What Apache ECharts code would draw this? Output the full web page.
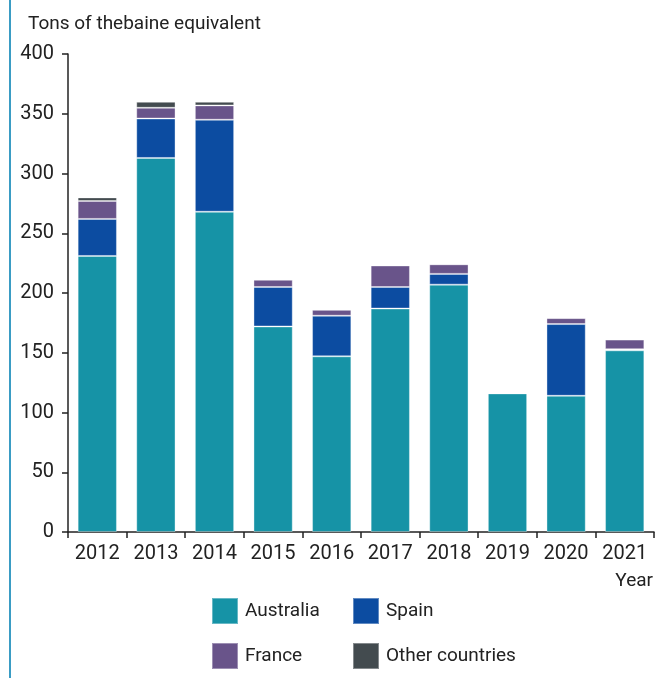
<!DOCTYPE html>
<html><head><meta charset="utf-8">
<script src="https://cdn.jsdelivr.net/npm/echarts@6/dist/echarts.min.js"></script>
<style>html,body{margin:0;padding:0;background:#fff}#c{width:662px;height:678px}</style>
</head><body><div id="c"></div>
<script>
var years = ['2012','2013','2014','2015','2016','2017','2018','2019','2020','2021'];
var australia = [231, 313, 268, 172, 147, 187, 207, 116, 114, 152];
var spain =     [31, 33, 77, 33, 34, 18, 9, 0, 60, 1];
var france =    [15, 9, 12, 6, 5, 18, 8, 0, 5, 8];
var other =     [3, 5, 3, 1, 0, 0, 0, 0, 0, 0];
var yTicks = [0, 50, 100, 150, 200, 250, 300, 350, 400];

var FONT = 'Roboto, sans-serif';
var names = ['Australia','Spain','France','Other countries'];
var colors = ['#1693a6','#0c4ca1','#69548a','#434b4f'];
var datas = [australia, spain, france, other];

var chart = echarts.init(document.getElementById('c'));
var series = names.map(function(n,i){
  return {name:n,type:'bar',stack:'t',data:datas[i],barWidth:'67%',
    itemStyle:{color:colors[i],borderColor:'rgba(255,255,255,0.35)',borderWidth:1},
    emphasis:{disabled:true}};
});
var legPos = [[211,597],[352,597],[211,642],[352,642]];
var legends = names.map(function(n,i){
  return {data:[n],left:legPos[i][0],top:legPos[i][1],itemWidth:26,itemHeight:26,itemGap:0,
    icon:'rect',padding:0,textStyle:{fontFamily:FONT,fontSize:19,color:'#222',padding:[0,0,0,2]},selectedMode:false};
});
chart.setOption({
  animation:false,
  textStyle:{fontFamily:FONT},
  grid:{left:68,right:8,top:54,bottom:146,containLabel:false},
  legend:legends,
  graphic:[
    {type:'line',shape:{x1:10,y1:0,x2:10,y2:678},style:{stroke:'#3a9cc4',lineWidth:2}},
    {type:'text',left:28,top:15,style:{text:'Tons of thebaine equivalent',fontFamily:FONT,fontSize:19,fill:'#222'}},
    {type:'text',right:9,top:572,style:{text:'Year',fontFamily:FONT,fontSize:19,fill:'#222'}}
  ],
  xAxis:{type:'category',data:years,
    axisLine:{lineStyle:{color:'#222',width:1.5}},
    axisTick:{show:true,alignWithLabel:false,length:6,lineStyle:{color:'#222',width:1.5}},
    axisLabel:{fontFamily:FONT,fontSize:20,color:'#222',margin:12}},
  yAxis:{type:'value',min:0,max:400,interval:50,
    splitLine:{show:false},
    axisLine:{show:true,lineStyle:{color:'#222',width:1.5}},
    axisTick:{show:true,length:6,lineStyle:{color:'#222',width:1.5}},
    axisLabel:{fontFamily:FONT,fontSize:20,color:'#222',margin:14,
      formatter:function(v){return yTicks.indexOf(v)>=0?String(v):'';}}},
  series:series
});
</script></body></html>
